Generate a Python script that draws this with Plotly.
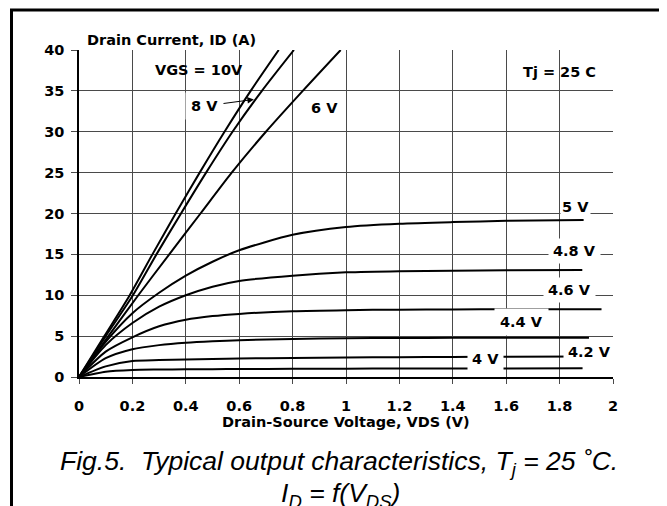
import plotly.graph_objects as go

# ---------------- data ----------------
id_steep = [0, 5, 10, 15, 20, 25, 30, 35, 40]
vds_10v = [0, 0.095, 0.19, 0.275, 0.362, 0.452, 0.545, 0.643, 0.748]
vds_8v = [0, 0.10, 0.202, 0.29, 0.382, 0.476, 0.575, 0.685, 0.805]
vds_6v = [0, 0.11, 0.222, 0.338, 0.455, 0.572, 0.70, 0.838, 0.98]

vds_5v = [0, 0.1, 0.2, 0.3, 0.4, 0.5, 0.6, 0.8, 1.0, 1.2, 1.4, 1.6, 1.89]
id_5v = [0, 4.3, 7.8, 10.3, 12.4, 14.1, 15.5, 17.4, 18.35, 18.75, 18.95, 19.1, 19.2]
vds_48v = [0, 0.1, 0.2, 0.3, 0.4, 0.5, 0.6, 0.8, 1.0, 1.2, 1.4, 1.6, 1.885]
id_48v = [0, 3.9, 6.6, 8.6, 10.0, 11.05, 11.75, 12.4, 12.8, 12.95, 13.0, 13.05, 13.1]
vds_46v = [0, 0.1, 0.2, 0.3, 0.4, 0.5, 0.6, 0.8, 1.0, 1.2, 1.4, 1.6, 1.957]
id_46v = [0, 3.1, 4.85, 6.2, 7.0, 7.45, 7.72, 8.05, 8.18, 8.24, 8.27, 8.29, 8.3]
vds_44v = [0, 0.1, 0.2, 0.3, 0.4, 0.5, 0.6, 0.8, 1.0, 1.2, 1.4, 1.6, 1.91]
id_44v = [0, 2.3, 3.4, 3.9, 4.2, 4.38, 4.5, 4.66, 4.74, 4.77, 4.79, 4.8, 4.8]
vds_42v = [0, 0.1, 0.2, 0.3, 0.4, 0.5, 0.6, 0.8, 1.0, 1.2, 1.4, 1.6, 1.886]
id_42v = [0, 1.3, 1.95, 2.07, 2.15, 2.21, 2.26, 2.33, 2.38, 2.42, 2.45, 2.48, 2.5]
vds_40v = [0, 0.1, 0.2, 0.3, 0.4, 0.5, 0.6, 0.8, 1.0, 1.2, 1.4, 1.6, 1.886]
id_40v = [0, 0.65, 0.86, 0.91, 0.94, 0.96, 0.98, 1.0, 1.02, 1.03, 1.04, 1.05, 1.06]

x_tickvals = [0, 0.2, 0.4, 0.6, 0.8, 1.0, 1.2, 1.4, 1.6, 1.8, 2.0]
x_ticktext = ["0", "0.2", "0.4", "0.6", "0.8", "1", "1.2", "1.4", "1.6", "1.8", "2"]
y_tickvals = [0, 5, 10, 15, 20, 25, 30, 35, 40]

curve_labels = ["5 V", "4.8 V", "4.6 V", "4.4 V", "4.2 V", "4 V"]
curve_label_x = [1.86, 1.854, 1.837, 1.658, 1.912, 1.524]
curve_label_y = [20.8, 15.45, 10.7, 6.75, 3.1, 2.15]
curve_label_pad = [1, 4, 4, 5, 4, 4]

# ---------------- figure ----------------
BOLD = dict(family="DejaVu Sans", size=14.5, color="black", weight="bold")
ITAL = dict(family="Liberation Sans", size=26.5, color="black")

fig = go.Figure()
series = [
    (vds_10v, id_steep, "10 V"), (vds_8v, id_steep, "8 V"), (vds_6v, id_steep, "6 V"),
    (vds_5v, id_5v, "5 V"), (vds_48v, id_48v, "4.8 V"), (vds_46v, id_46v, "4.6 V"),
    (vds_44v, id_44v, "4.4 V"), (vds_42v, id_42v, "4.2 V"), (vds_40v, id_40v, "4 V"),
]
for xs, ys, name in series:
    fig.add_trace(go.Scatter(
        x=xs, y=ys, mode="lines", name=name, showlegend=False,
        line=dict(color="black", width=2, shape="spline", smoothing=0.7),
        hoverinfo="skip",
    ))

annotations = [
    dict(x=0.0112, y=1.0306, xref="paper", yref="paper", text="Drain Current, ID (A)",
         showarrow=False, xanchor="left", yanchor="middle", font=BOLD),
    dict(x=0.451, y=37.55, xref="x", yref="y", text="VGS = 10V",
         showarrow=False, font=BOLD),
    dict(x=1.80, y=37.35, xref="x", yref="y", text="Tj = 25 C",
         showarrow=False, font=BOLD),
    dict(x=0.655, y=33.95, xref="x", yref="y", ax=0.47, ay=33.15, axref="x", ayref="y",
         text="8 V", showarrow=True, arrowhead=2, arrowsize=1.3, arrowwidth=1,
         arrowcolor="black", standoff=0, bgcolor="white", borderpad=5, font=BOLD),
    dict(x=0.92, y=32.9, xref="x", yref="y", text="6 V", showarrow=False,
         bgcolor="white", borderpad=4, font=BOLD),
    dict(x=0.5, y=-0.138, xref="paper", yref="paper", text="Drain-Source Voltage, VDS (V)",
         showarrow=False, yanchor="middle", font=BOLD),
    dict(x=0.487, y=-0.263, xref="paper", yref="paper",
         text="<i>Fig.5.  Typical output characteristics, T<sub>j</sub> = 25 ˚C.</i>",
         showarrow=False, yanchor="middle", font=ITAL),
    dict(x=0.49, y=-0.361, xref="paper", yref="paper",
         text="<i>I<sub>D</sub> = f(V<sub>DS</sub>)</i>",
         showarrow=False, yanchor="middle", font=ITAL),
]
for lab, lx, ly, pad in zip(curve_labels, curve_label_x, curve_label_y, curve_label_pad):
    annotations.append(dict(x=lx, y=ly, xref="x", yref="y", text=lab, showarrow=False,
                            bgcolor="white", borderpad=pad, font=BOLD))

# the page body has an 8 px margin, so the figure is 8 px smaller than the window
fig.update_layout(
    width=659, height=498, autosize=False,
    margin=dict(l=71, r=54, t=42, b=129, pad=0),
    paper_bgcolor="white", plot_bgcolor="white",
    annotations=annotations,
    shapes=[dict(type="rect", xref="paper", yref="paper",
                 x0=(11.5 - 79) / 534, x1=(663 - 79) / 534,
                 y0=(377 - 530) / 327, y1=(377 - 10) / 327,
                 line=dict(color="black", width=3), fillcolor="rgba(0,0,0,0)",
                 layer="above")],
)
fig.update_xaxes(
    range=[0, 2], tickvals=x_tickvals, ticktext=x_ticktext,
    showgrid=True, gridcolor="#4a4a4a", gridwidth=1, zeroline=False,
    showline=True, linecolor="black", linewidth=1.5,
    ticks="outside", ticklen=5, tickcolor="#4a4a4a", tickwidth=1,
    tickfont=BOLD, ticklabelstandoff=10,
)
fig.update_yaxes(
    range=[0, 40], tickvals=y_tickvals,
    showgrid=True, gridcolor="#4a4a4a", gridwidth=1, zeroline=False,
    showline=True, linecolor="black", linewidth=1.5,
    ticks="outside", ticklen=6, tickcolor="#4a4a4a", tickwidth=1,
    tickfont=BOLD, ticklabelstandoff=4,
)

fig.write_html("out.html")
